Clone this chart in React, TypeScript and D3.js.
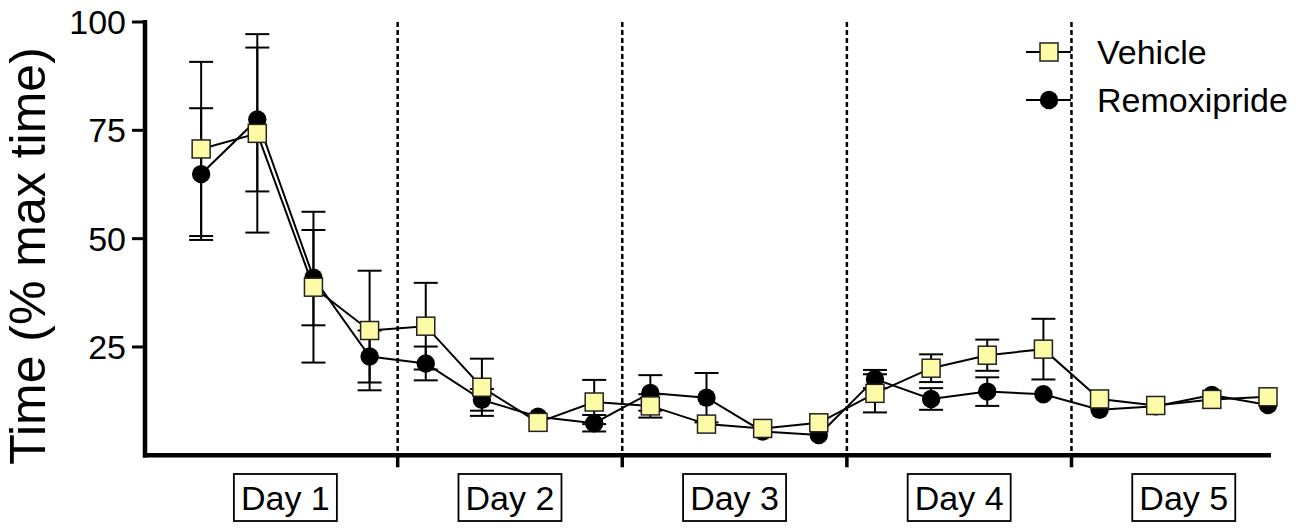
import React from "react";
import * as d3 from "d3";

const dayLabels = ["Day 1", "Day 2", "Day 3", "Day 4", "Day 5"];
const yTicks = [25, 50, 75, 100];
const vehicleMean = [70.7, 74.3, 38.8, 28.8, 29.8, 15.7, 7.6, 12.3, 11.4, 7.2, 6.2, 7.5, 14.3, 20.1, 23.1, 24.5, 13.0, 11.5, 12.9, 13.5];
const vehicleErr = [20.1, 22.9, 17.4, 13.8, 10.0, 6.6, 0, 5.1, 2.7, 0, 0, 0, 4.4, 3.2, 3.6, 7.0, 0, 0, 0, 0];
const remoxMean = [64.9, 77.5, 41.0, 22.8, 21.2, 12.8, 8.9, 7.4, 14.4, 13.3, 5.5, 4.7, 17.6, 13.0, 14.7, 14.1, 10.5, 11.3, 13.9, 11.6];
const remoxErr = [15.2, 16.6, 11.0, 6.0, 3.9, 2.5, 0, 1.9, 4.1, 5.7, 0, 0, 2.1, 2.5, 3.3, 0, 0, 0, 0, 0];
const seriesNames = ["Vehicle", "Remoxipride"];

const W = 1300;
const H = 530;
const FONT = "'Liberation Sans', Arial, Helvetica, sans-serif";
const YELLOW = "#fdfba6";

export default function App() {
  const x = d3.scaleLinear().domain([-1, 19]).range([145, 1268]);
  const y = d3.scaleLinear().domain([0, 100]).range([455.3, 22]);
  const idx = d3.range(vehicleMean.length);
  const line = d3
    .line<number>()
    .x((_, i) => x(i))
    .y((d) => y(d));
  const boundaries = [3.5, 7.5, 11.5, 15.5];
  const capW = 12;

  const errBars = (means: number[], errs: number[], key: string) =>
    idx
      .filter((i) => errs[i] > 0)
      .map((i) => {
        const cx = x(i);
        const top = y(means[i] + errs[i]);
        const bot = y(means[i] - errs[i]);
        return (
          <g key={key + i} stroke="#000" strokeWidth={2}>
            <line x1={cx} x2={cx} y1={top} y2={bot} />
            <line x1={cx - capW} x2={cx + capW} y1={top} y2={top} />
            <line x1={cx - capW} x2={cx + capW} y1={bot} y2={bot} />
          </g>
        );
      });

  const square = (cx: number, cy: number, k: string) => (
    <rect key={k} x={cx - 9} y={cy - 9} width={18} height={18} fill={YELLOW} stroke="#222" strokeWidth={1.5} />
  );
  const circle = (cx: number, cy: number, k: string) => (
    <circle key={k} cx={cx} cy={cy} r={9.2} fill="#000" />
  );

  return (
    <svg width={W} height={H} style={{ position: "absolute", left: 0, top: 0, background: "#fff" }} fontFamily={FONT}>
      {/* dashed day separators */}
      {boundaries.map((b) => (
        <line key={"d" + b} x1={x(b)} x2={x(b)} y1={y(100)} y2={y(0)} stroke="#000" strokeWidth={2.5} strokeDasharray="5 3" />
      ))}
      {/* error bars */}
      {errBars(remoxMean, remoxErr, "re")}
      {errBars(vehicleMean, vehicleErr, "ve")}
      {/* lines */}
      <path d={line(remoxMean) || ""} fill="none" stroke="#000" strokeWidth={2} />
      <path d={line(vehicleMean) || ""} fill="none" stroke="#000" strokeWidth={2} />
      {/* markers */}
      {remoxMean.map((v, i) => circle(x(i), y(v), "rc" + i))}
      {vehicleMean.map((v, i) => square(x(i), y(v), "vs" + i))}

      {/* axes */}
      <line x1={145} x2={145} y1={y(100) - 2} y2={y(0) + 2.2} stroke="#000" strokeWidth={4.5} />
      <line x1={143} x2={x(19) + 3} y1={y(0)} y2={y(0)} stroke="#000" strokeWidth={4.5} />
      {yTicks.map((t) => (
        <g key={"yt" + t}>
          <line x1={132} x2={145} y1={y(t)} y2={y(t)} stroke="#000" strokeWidth={3} />
          <text x={126} y={y(t)} textAnchor="end" dominantBaseline="central" fontSize={34} fill="#000">
            {t}
          </text>
        </g>
      ))}
      {boundaries.map((b) => (
        <line key={"xt" + b} x1={x(b)} x2={x(b)} y1={y(0)} y2={y(0) + 12} stroke="#000" strokeWidth={3.5} />
      ))}
      {/* day labels */}
      {dayLabels.map((d, i) => {
        const cx = (x(i * 4) + x(i * 4 + 3)) / 2;
        return (
          <g key={d}>
            <rect x={cx - 51.5} y={474} width={103} height={47} fill="#fff" stroke="#000" strokeWidth={1.8} />
            <text x={cx} y={498} textAnchor="middle" dominantBaseline="central" fontSize={34} fill="#000">
              {d}
            </text>
          </g>
        );
      })}
      {/* y axis title */}
      <text
        transform={`translate(28,256) rotate(-90)`}
        textAnchor="middle"
        dominantBaseline="central"
        fontSize={50}
        fill="#000"
      >
        Time (% max time)
      </text>
      {/* legend */}
      {seriesNames.map((s, i) => {
        const ly = 52 + i * 48;
        return (
          <g key={s}>
            <line x1={1026} x2={1071} y1={ly} y2={ly} stroke="#000" strokeWidth={2} />
            {i === 0 ? square(1049, ly, "lg" + i) : circle(1049, ly, "lg" + i)}
            <text x={1097} y={ly} dominantBaseline="central" fontSize={34} fill="#000">
              {s}
            </text>
          </g>
        );
      })}
    </svg>
  );
}
